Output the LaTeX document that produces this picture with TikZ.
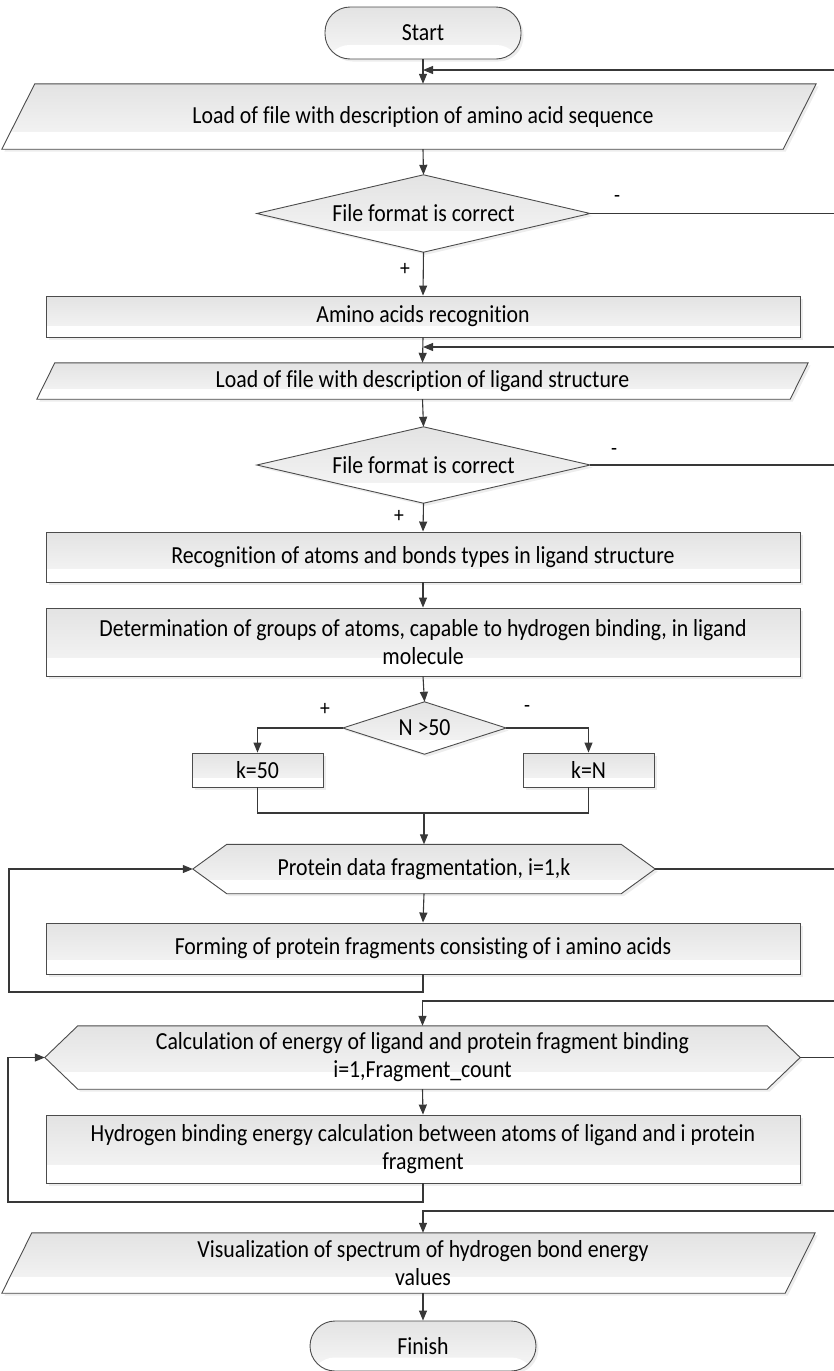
\documentclass[tikz,border=0pt]{standalone}
\usepackage{fontspec}
\setmainfont{Carlito}[Ligatures=NoCommon, FakeStretch=0.89]
\usetikzlibrary{arrows.meta,calc,backgrounds,shadows}

\begin{document}
\begin{tikzpicture}[x=1pt,y=-1pt,
  every node/.style={font=\fontsize{24.5}{28}\selectfont, inner sep=0pt, align=center},
  ln/.style={draw=black!78, line width=1.1pt},
  arr/.style={ln, -{Triangle[length=10pt,width=8pt]}},
  shp/.style={draw=black!70, line width=0.9pt, top color=black!11, bottom color=black!3,
    drop shadow={shadow xshift=2.5pt,shadow yshift=-2.5pt,fill=black!14},
    path picture={\fill[white] (path picture bounding box.south west) rectangle
      ($(path picture bounding box.south east)!0.27!(path picture bounding box.north east)$);}},
  area/.style n args={2}{minimum width=#1pt, minimum height=#2pt},
  boxst/.style={shp, rectangle},
  termst/.style={shp, rectangle, rounded corners=25pt},
  lbl/.style={font=\fontsize{22}{24}\selectfont}
]
\useasboundingbox (0,0) rectangle (834,1371);

% ---- nodes ----
\node[termst, area={196}{52}] (start) at (423,33) {Start};
\node[area={786}{65}] (para1) at (423,116.5) {Load of file with description of amino acid sequence};
\node[area={333}{77}] (dec1) at (423.5,213.5) {File format is correct};
\node[boxst, area={754}{41}] (box1) at (423,316.5) {Amino acids recognition};
\node[area={771}{36}] (para2) at (422.5,381) {Load of file with description of ligand structure};
\node[area={333}{76}] (dec2) at (423.5,465) {File format is correct};
\node[boxst, area={754}{50}] (box2) at (423,557) {Recognition of atoms and bonds types in ligand structure};
\node[boxst, area={754}{68}] (box3) at (423,642) {Determination of groups of atoms, capable to hydrogen binding, in ligand\\molecule};
\node[area={163}{52}] (nd) at (424.5,728) {N >50};
\node[boxst, area={131}{34}] (k50) at (257.5,770) {k=50};
\node[boxst, area={131}{34}] (kN) at (588.5,770) {k=N};
\node[area={462}{49}] (hex1) at (424,869) {Protein data fragmentation, i=1,k};
\node[boxst, area={754}{51}] (box4) at (423,948.5) {Forming of protein fragments consisting of i amino acids};
\node[area={755}{63}] (hex2) at (422.5,1057.5) {Calculation of energy of ligand and protein fragment binding\\i=1,Fragment\_count};
\node[boxst, area={754}{68}] (box5) at (423,1149) {Hydrogen binding energy calculation between atoms of ligand and i protein\\fragment};
\node[area={784}{60}] (para3) at (423,1263) {Visualization of spectrum of hydrogen bond energy\\values};
\node[termst, area={226}{50}] (finish) at (423,1346) {Finish};

% ---- outlines of the data, decision and loop shapes ----
% data shapes: node / slant / extra reach to the left
\begin{scope}[on background layer]
  \foreach \n/\s/\l in {para1/33/28,para2/18/0,para3/30/29}
    \path[shp] ($(\n.north west)+(\s-\l,0)$) -- (\n.north east) -- ($(\n.south east)-(\s,0)$)
      -- ($(\n.south west)-(\l,0)$) -- cycle;
  \foreach \n in {dec1,dec2,nd}
    \path[shp] (\n.west) -- (\n.north) -- (\n.east) -- (\n.south) -- cycle;
  \foreach \n/\s in {hex1/34,hex2/33}
    \path[shp] (\n.west) -- ($(\n.north west)+(\s,0)$) -- ($(\n.north east)-(\s,0)$) -- (\n.east)
      -- ($(\n.south east)-(\s,0)$) -- ($(\n.south west)+(\s,0)$) -- cycle;
\end{scope}

% ---- free ends and bends ----
\coordinate (r1) at (834,70);
\coordinate (r2) at (834,347);
\coordinate (d1end) at (834,213.5);
\coordinate (d2end) at (834,465);
\coordinate (join) at (424,813);
\coordinate (h1end) at (834,869);
\coordinate (lp1) at (9,992);
\coordinate (r3) at (834,1001);
\coordinate (h2end) at (834,1057.5);
\coordinate (lp2) at (8,1202);
\coordinate (r4) at (834,1211);

% ---- connectors ----
\draw[arr] (start.south) -- (para1.north);
\draw[arr] (r1) -- (r1 -| start.south);
\draw[arr] (para1.south) -- (dec1.north);
\draw[ln] (dec1.east) -- (d1end);
\draw[arr] (dec1.south) -- (box1.north);
\draw[arr] (box1.south) -- (para2.north);
\draw[arr] (r2) -- (r2 -| box1.south);
\draw[arr] (para2.south) -- (dec2.north);
\draw[ln] (dec2.east) -- (d2end);
\draw[arr] (dec2.south) -- (box2.north);
\draw[arr] (box2.south) -- (box3.north);
\draw[arr] (box3.south) -- (nd.north);
\draw[arr] (nd.west) -| (k50.north);
\draw[arr] (nd.east) -| (kN.north);
\draw[ln] (k50.south) |- (join) -| (kN.south);
\draw[arr] (join) -- (hex1.north);
\draw[ln] (hex1.east) -- (h1end);
\draw[arr] (hex1.south) -- (box4.north);
\draw[arr] (box4.south) |- (lp1) |- (hex1.west);
\draw[arr] (r3) -| (hex2.north);
\draw[ln] (hex2.east) -- (h2end);
\draw[arr] (hex2.south) -- (box5.north);
\draw[arr] (box5.south) |- (lp2) |- (hex2.west);
\draw[arr] (r4) -| (para3.north);
\draw[arr] (para3.south) -- (finish.north);

% ---- branch labels ----
\node[lbl] (m1) at (617,199) {-};
\node[lbl] (p1) at (405,269) {+};
\node[lbl] (m2) at (614,452) {-};
\node[lbl] (p2) at (399,516) {+};
\node[lbl] (p3) at (325,709) {+};
\node[lbl] (m3) at (527,709) {-};
\end{tikzpicture}
\end{document}
